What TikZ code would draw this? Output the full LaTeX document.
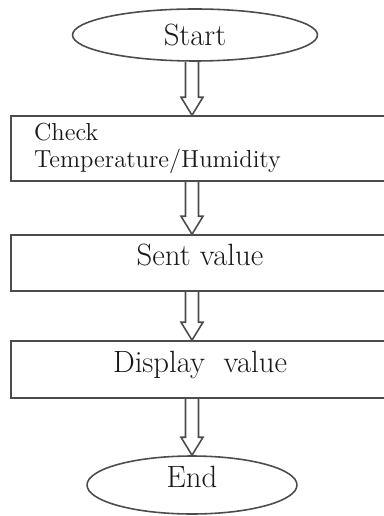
\documentclass[tikz,border=0pt]{standalone}
\usepackage{tikz}
\usetikzlibrary{calc,shapes.geometric}

% hollow block arrow from one node down to the next
\newcommand{\hollowarrow}[2]{%
  \draw[arr] ($(#1.south -| axis)+(-6.5,0)$) -- ($(#2.north -| axis)+(-6.5,-18)$)
    -- ($(#2.north -| axis)+(-11,-18)$) -- (#2.north -| axis)
    -- ($(#2.north -| axis)+(11,-18)$) -- ($(#2.north -| axis)+(6.5,-18)$)
    -- ($(#1.south -| axis)+(6.5,0)$);}

\begin{document}
\begin{tikzpicture}[x=0.02cm, y=-0.02cm,
    term/.style={ellipse, draw=black!70, line width=0.9pt, inner sep=0pt,
                 text=black!90, font=\fontsize{17.5}{20}\selectfont},
    stepbox/.style={rectangle, draw=black!70, line width=0.9pt, minimum width=7.56cm,
                    text height=0.7em, text depth=0.38em,
                    text=black!90, font=\fontsize{17.5}{20}\selectfont},
    arr/.style={draw=black!70, line width=0.9pt, line join=miter}]
  \clip (0,0) rectangle (384,516);
  \coordinate (axis) at (192,0);

  \node[term, minimum width=4.9cm, minimum height=1.04cm] (start) at (195,35) {Start};
  \node[stepbox, minimum height=1.3cm, text width=6.64cm, inner xsep=0.46cm, align=left,
        text height=, text depth=, font=\fontsize{14}{15.3}\selectfont] (check) at (200,148.5)
        {Check\\Temperature/Humidity};
  \node[stepbox, minimum height=1.12cm] (sent) at (200,263) {Sent value};
  \node[stepbox, minimum height=1.14cm] (display) at (200,369.5) {Display~ value};
  \node[term, minimum width=4.2cm, minimum height=1.16cm, text height=0.7em, text depth=0.38em] (end) at (192,485) {End};

  \hollowarrow{start}{check}
  \hollowarrow{check}{sent}
  \hollowarrow{sent}{display}
  \hollowarrow{display}{end}
\end{tikzpicture}
\end{document}
